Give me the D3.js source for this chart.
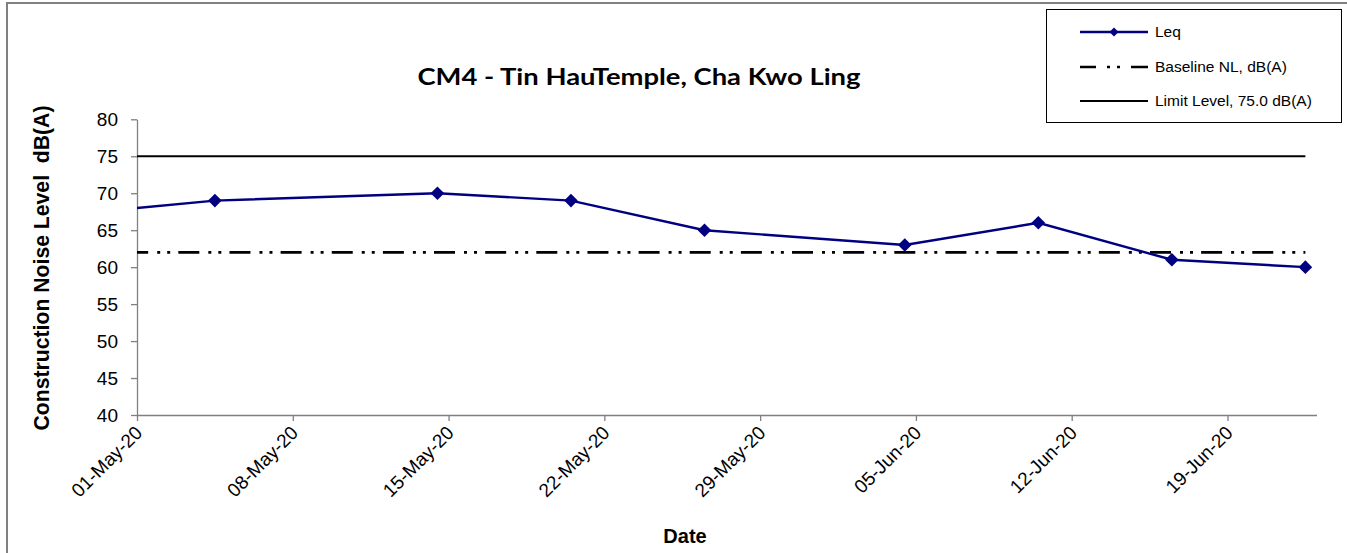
<!DOCTYPE html>
<html>
<head>
<meta charset="utf-8">
<script src="https://cdn.jsdelivr.net/npm/d3@7/dist/d3.min.js"></script>
<style>
  html, body { margin: 0; padding: 0; background: #fff; }
  svg { display: block; }
  text { font-family: "Liberation Sans", Arial, sans-serif; fill: #000; }
</style>
</head>
<body>
<svg id="chart" width="1347" height="553"></svg>
<script>
// Monitoring dates (with time of measurement) and Leq readings, dB(A)
const measureDates = ["2020-04-27 12:00", "2020-05-04 12:00", "2020-05-14 12:00", "2020-05-20 12:00",
                      "2020-05-26 12:00", "2020-06-04 12:00", "2020-06-10 12:00", "2020-06-16 12:00",
                      "2020-06-22 12:00"];
const leqValues = [67, 69, 70, 69, 65, 63, 66, 61, 60];
const baselineValues = [62, 62, 62, 62, 62, 62, 62, 62, 62];
const limitValues = [75, 75, 75, 75, 75, 75, 75, 75, 75];

// Axis settings
const xTickLabels = ["01-May-20", "08-May-20", "15-May-20", "22-May-20", "29-May-20",
                     "05-Jun-20", "12-Jun-20", "19-Jun-20"];
const xDomain = ["01-May-20", "23-Jun-20"];
const yTicks = [40, 45, 50, 55, 60, 65, 70, 75, 80];
const yDomain = [40, 80];

const titleText = "CM4 - Tin HauTemple, Cha Kwo Ling";
const xTitle = "Date";
const yTitle = "Construction Noise Level  dB(A)";
const seriesNames = ["Leq", "Baseline NL, dB(A)", "Limit Level, 75.0 dB(A)"];

const parseTick = d3.utcParse("%d-%b-%y");
const parseTime = d3.utcParse("%Y-%m-%d %H:%M");
const fmtTick = d3.utcFormat("%d-%b-%y");

const svg = d3.select("#chart");
const plot = { left: 137, right: 1316.5, top: 119.3, bottom: 415 };

const x = d3.scaleUtc().domain(xDomain.map(parseTick)).range([plot.left, plot.right]);
const y = d3.scaleLinear().domain(yDomain).range([plot.bottom, plot.top]);

const dates = measureDates.map(parseTime);
const leq = dates.map((d, i) => ({ date: d, value: leqValues[i] }));
const baseline = dates.map((d, i) => ({ date: d, value: baselineValues[i] }));
const limit = dates.map((d, i) => ({ date: d, value: limitValues[i] }));

// Outer chart frame
svg.append("path")
  .attr("d", "M7,553 V3 H1347")
  .attr("fill", "none").attr("stroke", "#808080").attr("stroke-width", 2);

// Clip region for the plotted series
svg.append("defs").append("clipPath").attr("id", "plotClip")
  .append("rect")
  .attr("x", plot.left).attr("y", plot.top - 10)
  .attr("width", plot.right - plot.left + 10).attr("height", plot.bottom - plot.top + 20);

// Y axis
const yAxis = svg.append("g")
  .attr("transform", `translate(${plot.left},0)`)
  .call(d3.axisLeft(y).tickValues(yTicks).tickSize(6).tickPadding(13).tickSizeOuter(0));
yAxis.select(".domain").attr("stroke", "#808080").attr("stroke-width", 1.3);
yAxis.selectAll(".tick line").attr("stroke", "#808080").attr("stroke-width", 1.3);
yAxis.selectAll(".tick text")
  .attr("font-family", "Liberation Sans, Arial, sans-serif")
  .attr("font-size", 19).attr("dy", "0.35em");

// X axis
const xAxis = svg.append("g")
  .attr("transform", `translate(0,${plot.bottom})`)
  .call(d3.axisBottom(x).tickValues(xTickLabels.map(parseTick)).tickFormat(fmtTick)
        .tickSize(6).tickSizeOuter(0));
xAxis.select(".domain").attr("stroke", "#808080").attr("stroke-width", 1.3);
xAxis.selectAll(".tick line").attr("stroke", "#808080").attr("stroke-width", 1.3);
xAxis.selectAll(".tick text")
  .attr("font-family", "Liberation Sans, Arial, sans-serif")
  .attr("font-size", 19)
  .attr("text-anchor", "end")
  .attr("dy", null)
  .attr("y", 0)
  .attr("transform", "translate(6,19) rotate(-45)");

const line = d3.line().x(d => x(d.date)).y(d => y(d.value));
const series = svg.append("g").attr("clip-path", "url(#plotClip)");

// Limit level
series.append("path").datum(limit)
  .attr("d", line).attr("fill", "none")
  .attr("stroke", "#000").attr("stroke-width", 2.2);

// Baseline noise level (long dash, dot, dot)
series.append("path").datum(baseline)
  .attr("d", line).attr("fill", "none")
  .attr("stroke", "#000").attr("stroke-width", 2.6)
  .attr("stroke-dasharray", "21,9,3,7,3,8.14")
  .attr("stroke-dashoffset", 34.2);

// Leq series
series.append("path").datum(leq)
  .attr("d", line).attr("fill", "none")
  .attr("stroke", "#000080").attr("stroke-width", 2.4);

const diamond = s => `M0,${-s} L${s},0 L0,${s} L${-s},0 Z`;
const [d0, d1] = x.domain();
series.selectAll(".marker")
  .data(leq.filter(d => d.date >= d0 && d.date <= d1))
  .join("path")
  .attr("class", "marker")
  .attr("transform", d => `translate(${x(d.date)},${y(d.value)})`)
  .attr("d", diamond(6.8))
  .attr("fill", "#000080");

// Titles
svg.append("text")
  .attr("x", 639).attr("y", 85)
  .attr("text-anchor", "middle")
  .style("font-family", "Lato, 'Open Sans', sans-serif")
  .attr("font-weight", "bold").attr("font-size", 23)
  .attr("textLength", 443).attr("lengthAdjust", "spacingAndGlyphs")
  .text(titleText);

svg.append("text")
  .attr("x", 685).attr("y", 543)
  .attr("text-anchor", "middle")
  .attr("font-weight", "bold").attr("font-size", 20)
  .text(xTitle);

svg.append("text")
  .attr("transform", "translate(49,268) rotate(-90)")
  .attr("text-anchor", "middle")
  .attr("font-weight", "bold").attr("font-size", 21.2)
  .style("white-space", "pre")
  .attr("xml:space", "preserve")
  .text(yTitle);

// Legend
const legend = svg.append("g");
legend.append("rect")
  .attr("x", 1046.5).attr("y", 9.5).attr("width", 295).attr("height", 113)
  .attr("fill", "#fff").attr("stroke", "#000").attr("stroke-width", 1);

const legendY = [32, 67, 101];
const sx0 = 1080, sx1 = 1148;
legend.append("line")
  .attr("x1", sx0).attr("x2", sx1).attr("y1", legendY[0]).attr("y2", legendY[0])
  .attr("stroke", "#000080").attr("stroke-width", 2.4);
legend.append("path")
  .attr("transform", `translate(${(sx0 + sx1) / 2},${legendY[0]})`)
  .attr("d", diamond(4.5)).attr("fill", "#000080");
legend.append("line")
  .attr("x1", sx0).attr("x2", sx1).attr("y1", legendY[1]).attr("y2", legendY[1])
  .attr("stroke", "#000").attr("stroke-width", 2.6)
  .attr("stroke-dasharray", "16,11,3,7,3,11,19");
legend.append("line")
  .attr("x1", sx0).attr("x2", sx1).attr("y1", legendY[2]).attr("y2", legendY[2])
  .attr("stroke", "#000").attr("stroke-width", 2.2);

legend.selectAll(".legend-label")
  .data(seriesNames)
  .join("text")
  .attr("class", "legend-label")
  .attr("x", 1155).attr("y", (d, i) => legendY[i])
  .attr("dy", "0.35em")
  .attr("font-size", 15.5)
  .text(d => d);
</script>
</body>
</html>
